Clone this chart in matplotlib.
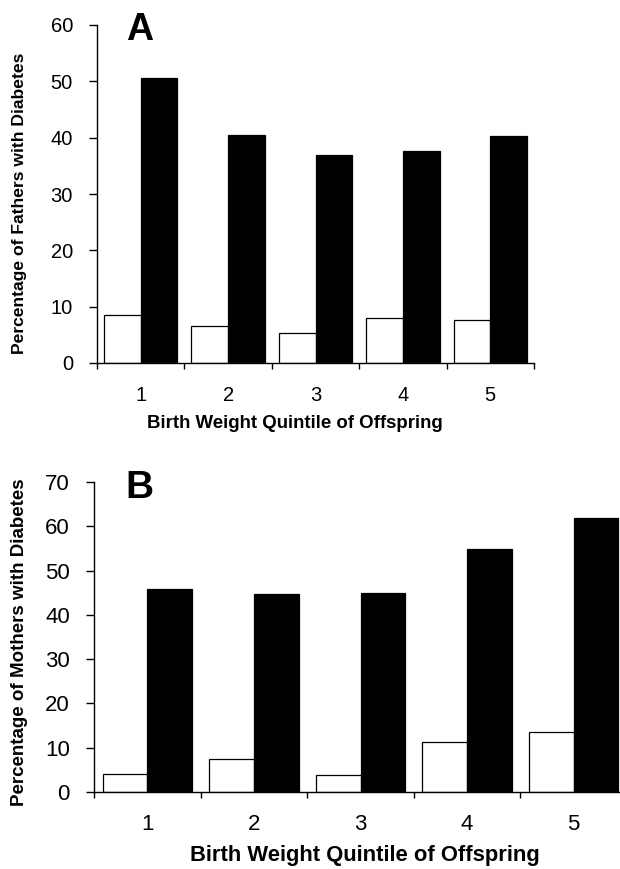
import matplotlib
matplotlib.use("Agg")
import matplotlib.pyplot as plt
import numpy as np

plt.rcParams['font.family'] = ['Liberation Sans', 'DejaVu Sans']

quintiles = ["1", "2", "3", "4", "5"]
fathers_white = [8.6, 6.6, 5.3, 8.0, 7.6]
fathers_black = [50.6, 40.4, 37.0, 37.7, 40.3]
mothers_white = [4.0, 7.4, 3.9, 11.3, 13.5]
mothers_black = [45.8, 44.7, 45.0, 54.9, 61.9]

W, H = 620, 869
fig = plt.figure(figsize=(W / 100, H / 100), dpi=100)


def px_axes(left, right, top, bottom):
    return fig.add_axes([left / W, 1 - bottom / H, (right - left) / W, (bottom - top) / H])


def draw_panel(ax, white, black, ymax, tick_fs, xpad):
    x = np.arange(1, len(quintiles) + 1)
    bw = 0.42
    ax.bar(x - bw / 2, white, width=bw, color="white", edgecolor="black", linewidth=0.9)
    ax.bar(x + bw / 2, black, width=bw, color="black", edgecolor="black", linewidth=0.9)
    ax.set_xlim(0.5, len(quintiles) + 0.5)
    ax.set_ylim(0, ymax)
    ax.set_yticks(np.arange(0, ymax + 1, 10))
    ax.set_xticks(x)
    ax.set_xticklabels(quintiles)
    ax.set_xticks(np.arange(0.5, len(quintiles) + 1, 1), minor=True)
    for s in ["top", "right"]:
        ax.spines[s].set_visible(False)
    for s in ["left", "bottom"]:
        ax.spines[s].set_linewidth(1.0)
    ax.tick_params(axis="y", direction="out", length=5.8, width=1.0, pad=11.5, labelsize=tick_fs)
    ax.tick_params(axis="x", which="major", length=0, pad=xpad, labelsize=tick_fs)
    ax.tick_params(axis="x", which="minor", direction="out", length=4, width=1.0)


axA = px_axes(97, 534, 25, 363)
draw_panel(axA, fathers_white, fathers_black, 60, 14.5, 16.5)
axB = px_axes(94, 627, 482, 792)
draw_panel(axB, mothers_white, mothers_black, 70, 16, 16)

fig.text(126 / W, 1 - 40 / H, "A", fontsize=27, fontweight="bold", ha="left", va="baseline")
fig.text(125 / W, 1 - 498 / H, "B", fontsize=28, fontweight="bold", ha="left", va="baseline")

fig.text(20 / W, 1 - 203 / H, "Percentage of Fathers with Diabetes", rotation=90,
         fontsize=12.6, fontweight="bold", ha="center", va="center")
fig.text(20 / W, 1 - 642 / H, "Percentage of Mothers with Diabetes", rotation=90,
         fontsize=13.5, fontweight="bold", ha="center", va="center")

fig.text(295 / W, 1 - 423 / H, "Birth Weight Quintile of Offspring",
         fontsize=13.4, fontweight="bold", ha="center", va="center")
fig.text(365 / W, 1 - 855 / H, "Birth Weight Quintile of Offspring",
         fontsize=15.8, fontweight="bold", ha="center", va="center")

fig.savefig("out.png", dpi=100)
